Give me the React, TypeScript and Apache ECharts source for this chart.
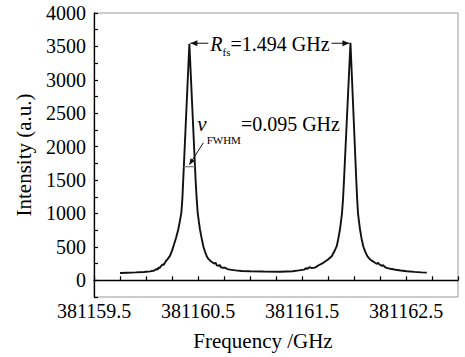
import React, { useEffect, useRef } from 'react';
import * as echarts from 'echarts';

// Measured spectrum (frequency in GHz, intensity in a.u.)
const frequencyGHz = [
  381159.75, 381159.82, 381159.9, 381159.98, 381160.04, 381160.08, 381160.1, 381160.11,
  381160.12, 381160.13, 381160.14, 381160.16, 381160.17, 381160.19, 381160.21, 381160.23,
  381160.25, 381160.27, 381160.29, 381160.31, 381160.325, 381160.34, 381160.35, 381160.358,
  381160.417,
  381160.477, 381160.487, 381160.497, 381160.508, 381160.519, 381160.535, 381160.551, 381160.567,
  381160.584, 381160.6, 381160.62, 381160.644, 381160.66, 381160.67, 381160.68, 381160.7,
  381160.71, 381160.72, 381160.74, 381160.76, 381160.78, 381160.81, 381160.86, 381160.92,
  381161.0, 381161.13, 381161.29, 381161.41, 381161.47, 381161.52, 381161.54, 381161.55,
  381161.57, 381161.59, 381161.625, 381161.66, 381161.705, 381161.75, 381161.786, 381161.81,
  381161.834, 381161.85, 381161.865, 381161.875, 381161.885, 381161.895, 381161.904,
  381161.966,
  381162.022, 381162.03, 381162.038, 381162.048, 381162.058, 381162.072, 381162.089, 381162.108,
  381162.128, 381162.15, 381162.175, 381162.202, 381162.22, 381162.23, 381162.25, 381162.27,
  381162.28, 381162.3, 381162.314, 381162.35, 381162.4, 381162.45, 381162.507, 381162.58,
  381162.65, 381162.7,
];
const intensityAU = [
  110, 114, 118, 124, 134, 146, 168, 158,
  190, 180, 205, 240, 230, 285, 320, 365,
  440, 540, 640, 760, 880, 1010, 1230, 1500,
  3540,
  1500, 1230, 1010, 880, 760, 630, 510, 430,
  360, 320, 290, 262, 250, 265, 225, 215,
  230, 195, 187, 190, 168, 160, 148, 140,
  135, 131, 128, 136, 148, 160, 182, 170,
  195, 185, 190, 225, 262, 310, 360, 430,
  510, 630, 760, 880, 1010, 1230, 1500,
  3555,
  1500, 1230, 1010, 880, 760, 630, 510, 430,
  360, 320, 290, 262, 245, 262, 230, 215,
  228, 195, 187, 172, 158, 146, 136, 126,
  118, 115,
];

const peakFreqs = [381160.417, 381161.966];
const peakValues = [3540, 3555];
const fwhmLevel = 1700;
const fwhmEdges = [381160.362, 381160.472];
const rfsLabel = '1.494 GHz';
const fwhmLabel = '0.095 GHz';

const xMin = 381159.5;
const xMax = 381163.0;
const xStep = 0.25;
const yMin = -250;
const yMax = 4000;
const yStep = 250;

const FONT = 'Liberation Serif';

function arrowHead(tip: number[], from: number[], len = 7, half = 3) {
  const dx = tip[0] - from[0];
  const dy = tip[1] - from[1];
  const d = Math.sqrt(dx * dx + dy * dy) || 1;
  const ux = dx / d;
  const uy = dy / d;
  const bx = tip[0] - ux * len;
  const by = tip[1] - uy * len;
  return [
    [tip[0], tip[1]],
    [bx - uy * half, by + ux * half],
    [bx + uy * half, by - ux * half],
  ];
}

export default function App() {
  const ref = useRef<HTMLDivElement>(null);
  useEffect(() => {
    const chart = echarts.init(ref.current!, null, { renderer: 'svg' });
    chart.setOption({
      animation: false,
      backgroundColor: '#fff',
      textStyle: { fontFamily: FONT },
      grid: {
        left: 94,
        right: 7,
        top: 13,
        bottom: 60,
        show: true,
        borderColor: '#999',
        borderWidth: 1,
      },
      xAxis: {
        type: 'value',
        min: xMin,
        max: xMax,
        interval: xStep,
        name: 'Frequency /GHz',
        nameLocation: 'middle',
        nameGap: 33,
        nameTextStyle: { fontFamily: FONT, fontSize: 21, color: '#000', padding: [0, 26, 0, 0] },
        axisLine: { show: true, lineStyle: { color: '#000', width: 1.3 } },
        axisTick: { show: true, inside: true, length: 4, lineStyle: { color: '#000', width: 1.2 } },
        splitLine: { show: false },
        axisLabel: {
          fontFamily: FONT,
          fontSize: 20,
          color: '#000',
          margin: 4,
          showMaxLabel: true,
          showMinLabel: true,
          formatter: (v: number) => {
            const r = Math.abs((v - xMin) % 1);
            if ((r < 1e-6 || r > 1 - 1e-6) && v < xMax - 0.01) return v.toFixed(1);
            return '';
          },
        },
      },
      yAxis: {
        type: 'value',
        min: yMin,
        max: yMax,
        interval: yStep,
        name: 'Intensity (a.u.)',
        nameLocation: 'middle',
        nameGap: 60,
        nameTextStyle: { fontFamily: FONT, fontSize: 21, color: '#000' },
        axisLine: { show: true, lineStyle: { color: '#000', width: 1.3 } },
        axisTick: { show: true, inside: true, length: 4, lineStyle: { color: '#000', width: 1.2 } },
        splitLine: { show: false },
        axisLabel: {
          fontFamily: FONT,
          fontSize: 20,
          color: '#000',
          margin: 8,
          formatter: (v: number) => (v >= 0 && Math.abs(v % 500) < 1e-6 ? String(v) : ''),
        },
      },
      series: [
        {
          type: 'line',
          data: frequencyGHz.map((f, i) => [f, intensityAU[i]]),
          showSymbol: false,
          symbol: 'none',
          lineStyle: { color: '#111', width: 1.9 },
        },
      ],
    });

    const p1 = chart.convertToPixel({ gridIndex: 0 }, [peakFreqs[0], peakValues[0]]) as number[];
    const p2 = chart.convertToPixel({ gridIndex: 0 }, [peakFreqs[1], peakValues[1]]) as number[];
    const fa = chart.convertToPixel({ gridIndex: 0 }, [fwhmEdges[0], fwhmLevel]) as number[];
    const fb = chart.convertToPixel({ gridIndex: 0 }, [fwhmEdges[1], fwhmLevel]) as number[];
    const ly = (p1[1] + p2[1]) / 2;
    const leftTip = [p1[0] + 1, ly];
    const rightTip = [p2[0] - 1, ly];
    const nuY = p1[1] + 80;
    const diagStart = [p1[0] + 14, nuY + 19];
    const diagEnd = [(fa[0] + fb[0]) / 2, fa[1] - 2];

    chart.setOption({
      graphic: [
        {
          type: 'line',
          shape: { x1: leftTip[0], y1: ly, x2: rightTip[0], y2: ly },
          style: { stroke: '#111', lineWidth: 1.2 },
          z: 10,
        },
        {
          type: 'polygon',
          shape: { points: arrowHead(leftTip, [leftTip[0] + 10, ly]) },
          style: { fill: '#111' },
          z: 10,
        },
        {
          type: 'polygon',
          shape: { points: arrowHead(rightTip, [rightTip[0] - 10, ly]) },
          style: { fill: '#111' },
          z: 10,
        },
        {
          type: 'text',
          x: (p1[0] + p2[0]) / 2,
          y: ly + 1,
          z: 11,
          style: {
            text: '{i|R}{s|fs}{n|=' + rfsLabel + '}',
            align: 'center',
            verticalAlign: 'middle',
            backgroundColor: '#fff',
            padding: [0, 2],
            rich: {
              i: { fontFamily: FONT, fontSize: 20, fontStyle: 'italic', lineHeight: 26, fill: '#000' },
              s: { fontFamily: FONT, fontSize: 11, lineHeight: 10, verticalAlign: 'bottom', fill: '#000' },
              n: { fontFamily: FONT, fontSize: 20, lineHeight: 26, fill: '#000' },
            },
          },
        },
        {
          type: 'text',
          x: p1[0] + 8,
          y: nuY,
          z: 11,
          style: {
            text: '{g|ν}{s|FWHM}{n|=' + fwhmLabel + '}',
            align: 'left',
            verticalAlign: 'middle',
            rich: {
              g: { fontFamily: FONT, fontSize: 21, fontStyle: 'italic', lineHeight: 44, fill: '#000' },
              s: { fontFamily: FONT, fontSize: 11, lineHeight: 10, verticalAlign: 'bottom', fill: '#000' },
              n: { fontFamily: FONT, fontSize: 20, lineHeight: 44, fill: '#000' },
            },
          },
        },
        {
          type: 'line',
          shape: { x1: fa[0], y1: fa[1], x2: fb[0], y2: fb[1] },
          style: { stroke: '#777', lineWidth: 1.2 },
          z: 10,
        },
        {
          type: 'line',
          shape: { x1: diagStart[0], y1: diagStart[1], x2: diagEnd[0], y2: diagEnd[1] },
          style: { stroke: '#111', lineWidth: 1 },
          z: 10,
        },
        {
          type: 'polygon',
          shape: { points: arrowHead(diagEnd, diagStart, 6, 2.5) },
          style: { fill: '#111' },
          z: 10,
        },
      ],
    });
    return () => chart.dispose();
  }, []);
  return <div ref={ref} style={{ position: 'fixed', left: 0, top: 0, width: 465, height: 357 }} />;
}
